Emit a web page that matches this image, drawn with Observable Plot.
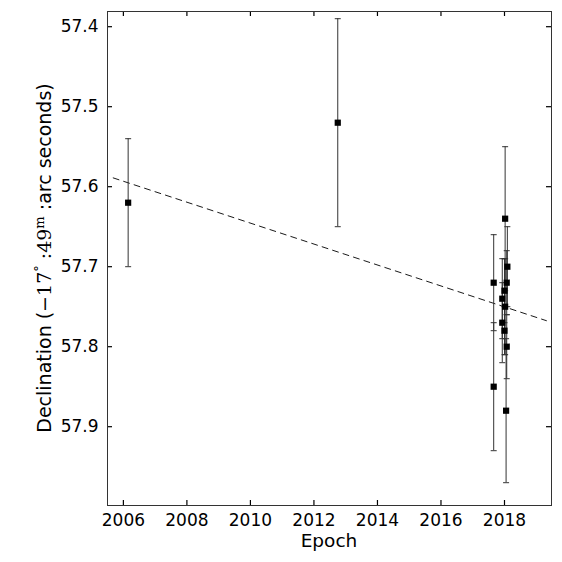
<!DOCTYPE html>
<html>
<head>
<meta charset="utf-8">
<script src="https://cdn.jsdelivr.net/npm/d3@7"></script>
<script src="https://cdn.jsdelivr.net/npm/@observablehq/plot@0.6"></script>
<style>
  html, body { margin: 0; padding: 0; background: #fff; }
  #chart svg { display: block; }
</style>
</head>
<body>
<div id="chart"></div>
<script>
// Observations (epoch, declination seconds, uncertainty)
const epochs = [2006.15, 2012.75, 2017.66, 2017.66, 2018.02, 2018.09, 2018.07, 2018.00, 2017.93, 2018.02, 2017.93, 2018.00, 2018.07, 2018.05];
const decl   = [57.62,   57.52,   57.72,   57.85,   57.64,   57.70,   57.72,   57.73,   57.74,   57.75,   57.77,   57.78,   57.80,   57.88];
const errs   = [0.08,    0.13,    0.06,    0.08,    0.09,    0.05,    0.04,    0.04,    0.05,    0.06,    0.05,    0.03,    0.04,    0.09];

// Proper-motion fit line endpoints
const fitEpoch = [2005.68, 2019.32];
const fitDecl  = [57.589, 57.7675];

// Tick values
const xTicks = [2006, 2008, 2010, 2012, 2014, 2016, 2018];
const yTicks = [57.4, 57.5, 57.6, 57.7, 57.8, 57.9];

const obs = epochs.map((e, i) => ({epoch: e, dec: decl[i], err: errs[i]}));
const fit = fitEpoch.map((e, i) => ({epoch: e, dec: fitDecl[i]}));

const capSymbol = {
  draw(ctx, size) {
    const r = Math.sqrt(size / Math.PI);
    ctx.moveTo(-r, 0);
    ctx.lineTo(r, 0);
  }
};

const W = 562, H = 562, mL = 107, mR = 11, mT = 11, mB = 57;
const innerW = W - mL - mR, innerH = H - mT - mB;
const tk = 5;

const svg = Plot.plot({
  width: W, height: H,
  marginLeft: mL, marginRight: mR, marginTop: mT, marginBottom: mB,
  x: {domain: [2005.5, 2019.48]},
  y: {domain: [57.381, 57.9985], reverse: true},
  style: {fontFamily: "DejaVu Sans", fontSize: "17px", color: "#000", background: "#fff"},
  marks: [
    Plot.axisX(xTicks, {tickSize: 0, tickPadding: 8, label: null, tickFormat: d => String(d), fontSize: 17, fill: "#000"}),
    Plot.axisY(yTicks, {tickSize: 0, tickPadding: 9, label: null, tickFormat: d => d.toFixed(1), fontSize: 17, fill: "#000"}),
    Plot.tickX(xTicks, {x: d => d, insetTop: innerH - tk, stroke: "#000", strokeWidth: 1.2}),
    Plot.tickX(xTicks, {x: d => d, insetBottom: innerH - tk, stroke: "#000", strokeWidth: 1.2}),
    Plot.tickY(yTicks, {y: d => d, insetRight: innerW - tk, stroke: "#000", strokeWidth: 1.2}),
    Plot.tickY(yTicks, {y: d => d, insetLeft: innerW - tk, stroke: "#000", strokeWidth: 1.2}),
    Plot.line(fit, {x: "epoch", y: "dec", stroke: "#000", strokeWidth: 0.9, strokeDasharray: "6,5"}),
    Plot.ruleX(obs, {x: "epoch", y1: d => d.dec - d.err, y2: d => d.dec + d.err, stroke: "#333", strokeWidth: 1}),
    Plot.dot(obs, {x: "epoch", y: d => d.dec - d.err, symbol: capSymbol, r: 3, fill: "none", stroke: "#333", strokeWidth: 1}),
    Plot.dot(obs, {x: "epoch", y: d => d.dec + d.err, symbol: capSymbol, r: 3, fill: "none", stroke: "#333", strokeWidth: 1}),
    Plot.dot(obs, {x: "epoch", y: "dec", symbol: "square", r: 3.5, fill: "#000", stroke: "none"}),
    Plot.frame({stroke: "#333", strokeWidth: 1})
  ]
});

const s = d3.select(svg);
// X axis label
s.append("text")
  .attr("x", mL + innerW / 2)
  .attr("y", 547)
  .attr("text-anchor", "middle")
  .attr("font-family", "DejaVu Sans")
  .attr("font-size", 18.5)
  .attr("fill", "#000")
  .text("Epoch");

// Y axis label with math part
const yl = s.append("text")
  .attr("transform", `translate(51,${mT + innerH / 2}) rotate(-90)`)
  .attr("text-anchor", "middle")
  .attr("font-family", "DejaVu Sans")
  .attr("font-size", 19)
  .attr("fill", "#000");
yl.append("tspan").text("Declination (");
yl.append("tspan").attr("font-family", "DejaVu Serif").text("\u221217");
yl.append("tspan").attr("font-family", "DejaVu Serif").attr("font-size", 13).attr("dy", -7).text("\u00b0");
yl.append("tspan").attr("font-family", "DejaVu Serif").attr("dy", 7).text(" :49");
yl.append("tspan").attr("font-family", "DejaVu Serif").attr("font-size", 13).attr("dy", -7).text("m");
yl.append("tspan").attr("dy", 7).text(" :arc seconds)");

document.getElementById("chart").appendChild(svg);
</script>
</body>
</html>
